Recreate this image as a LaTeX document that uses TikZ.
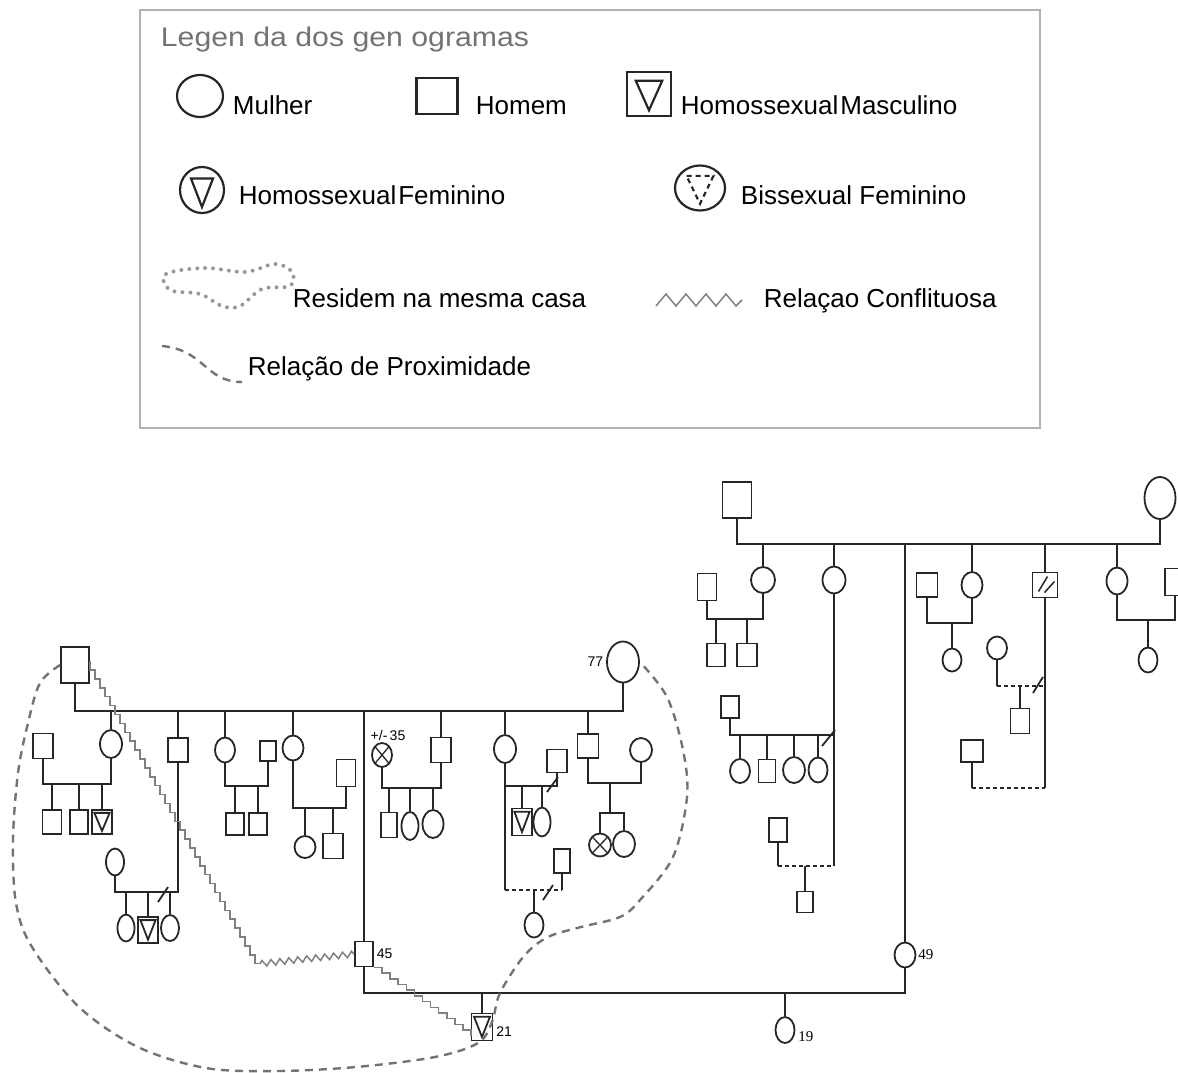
\documentclass[tikz,border=0pt]{standalone}
\usepackage{fontspec}
\setmainfont{Liberation Sans}
\newfontfamily\serifnum{Liberation Serif}
\newfontfamily\titlefont[FakeStretch=1.12]{Liberation Sans}
\usetikzlibrary{shapes.geometric,calc,positioning,decorations.pathmorphing}

\begin{document}
\begin{tikzpicture}[x=1pt,y=-1pt,line width=1.8pt,color=black!85,
  fem/.style 2 args={draw,ellipse,minimum width=#1,minimum height=#2,inner sep=0pt},
  masc/.style 2 args={draw,rectangle,minimum width=#1,minimum height=#2,inner sep=0pt},
  tri/.style={path picture={\draw ($(path picture bounding box.north west)!#1!(path picture bounding box.south east)$) -- ($(path picture bounding box.north east)!#1!(path picture bounding box.south west)$) -- ($(path picture bounding box.south)!0.13!(path picture bounding box.north)$) -- cycle;}},
  dtri/.style={path picture={\draw[dash pattern=on 5pt off 4pt] ($(path picture bounding box.north west)!#1!(path picture bounding box.south east)$) -- ($(path picture bounding box.north east)!#1!(path picture bounding box.south west)$) -- ($(path picture bounding box.south)!0.15!(path picture bounding box.north)$) -- cycle;}},
  xcross/.style={path picture={\draw[line width=1.3pt] (path picture bounding box.north west) -- (path picture bounding box.south east) (path picture bounding box.north east) -- (path picture bounding box.south west);}},
  hatch/.style={path picture={\draw[line width=1.5pt] ([xshift=-6.5pt,yshift=-6.5pt]path picture bounding box.center) -- ([xshift=2.5pt,yshift=8.5pt]path picture bounding box.center) ([xshift=-0.5pt,yshift=-7.5pt]path picture bounding box.center) -- ([xshift=9.5pt,yshift=3.5pt]path picture bounding box.center);}},
  lbl/.style={font=\fontsize{26}{30}\selectfont,text=black,inner sep=0pt,anchor=base west},
  age/.style={font=\fontsize{14}{16}\selectfont,text=black,inner sep=1pt},
  agesf/.style={font=\serifnum\fontsize{15}{17}\selectfont,text=black,inner sep=1pt},
  conflict/.style={draw=black!50,line width=1.5pt},
  prox/.style={draw=black!55,line width=2.4pt,dash pattern=on 8pt off 6pt},
  house/.style={draw=black!40,line width=4pt,line cap=round,dash pattern=on 0pt off 8pt},
  leg/.style={line width=2.2pt}]
\useasboundingbox (0,0) rectangle (1178,1072);
\clip (0,0) rectangle (1178,1072);

% legend
\draw[black!30,line width=1.2pt] (140,10) rectangle (1040,428);
\node[font=\titlefont\fontsize{27}{30}\selectfont,text=black!55,anchor=base west,inner sep=0pt] (title) at (160,46) {Legen da dos gen ogramas};
\node[fem={46}{42},leg] (kw) at (200,96) {};
\node[lbl] (kwt) at (232,114) {Mulher};
\node[masc={41}{36},leg] (km) at (437,96) {};
\node[lbl] (kmt) at (475,114) {Homem};
\node[masc={44}{44},leg,tri=0.2] (khm) at (649,94) {};
\node[lbl] (khmt) at (680,114) {Homossexual\hspace{2pt}Masculino};
\node[fem={44}{46},leg,tri=0.25] (khf) at (202,190) {};
\node[lbl] (khft) at (238,204) {Homossexual\hspace{2pt}Feminino};
\node[fem={50}{45},leg,dtri=0.23] (kbf) at (700,188) {};
\node[lbl] (kbft) at (740,204) {Bissexual Feminino};
\draw[house] plot[smooth cycle,tension=0.6] coordinates {(166,274) (205,268) (245,272) (275,264) (292,272) (290,286) (262,289) (240,306) (222,306) (200,294) (170,290)};
\node[lbl] (kht) at (292,307) {Residem na mesma casa};
\draw[conflict] (656,306) \foreach \i in {1,...,4}{ -- ++(10,-12) -- ++(10,12)} -- ++(6,-6);
\node[lbl] (kct) at (763,307) {Relaçao Conflituosa};
\draw[prox] (162,346) .. controls (205,350) and (205,382) .. (242,382);
\node[lbl] (kpt) at (247,375) {Relação de Proximidade};

% left family: grandparents
\node[masc={28}{36}] (gf) at (75,665) {};
\node[fem={32}{41}] (g77) at (623,662) {};
\node[age,left=1pt of g77] (g77a) {77};
\coordinate (lbar) at (0,711);
\draw (gf.south) -- (gf.south |- lbar) -| (g77.south);

% daughter with three sons
\node[fem={22}{28}] (a1) at (111,744) {};
\node[masc={20}{25}] (a1h) at (43,746) {};
\draw (a1.north) -- (a1.north |- lbar);
\draw (a1h.south) |- (a1.south |- 0,784) -- (a1.south);
\node[masc={19}{24}] (a1s1) at (52,822) {};
\node[masc={18}{24}] (a1s2) at (79,822) {};
\node[masc={20}{24},tri=0.12] (a1s3) at (102,822) {};
\foreach \n in {a1s1,a1s2,a1s3} \draw (\n.north) -- (\n.north |- 0,784);

% son, divorced
\node[masc={20}{24}] (b1) at (178,750) {};
\node[fem={18}{27}] (b1w) at (115,862) {};
\draw (b1.north) -- (b1.north |- lbar);
\draw (b1.south) |- (b1w.south |- 0,892) -- (b1w.south);
\draw (158,902) -- (168,887);
\node[fem={17}{27}] (b1c1) at (126,928) {};
\node[masc={20}{26},tri=0.12] (b1c2) at (148,930) {};
\node[fem={18}{26}] (b1c3) at (170,928) {};
\foreach \n in {b1c1,b1c2,b1c3} \draw (\n.north) -- (\n.north |- 0,892);

% daughter with two sons
\node[fem={20}{25}] (c1) at (225,750) {};
\node[masc={16}{20}] (c1h) at (268,751) {};
\draw (c1.north) -- (c1.north |- lbar);
\draw (c1.south) |- (c1h.south |- 0,786) -- (c1h.south);
\node[masc={18}{22}] (c1s1) at (235,824) {};
\node[masc={18}{22}] (c1s2) at (258,824) {};
\foreach \n in {c1s1,c1s2} \draw (\n.north) -- (\n.north |- 0,786);

% daughter with daughter and son
\node[fem={21}{25}] (d1) at (293,748) {};
\node[masc={19}{27}] (d1h) at (346,773) {};
\draw (d1.north) -- (d1.north |- lbar);
\draw (d1.south) |- (d1h.south |- 0,808) -- (d1h.south);
\node[fem={21}{22}] (d1d) at (305,847) {};
\node[masc={20}{25}] (d1s) at (333,846) {};
\foreach \n in {d1d,d1s} \draw (\n.north) -- (\n.north |- 0,808);

% 45
\node[masc={18}{25}] (e1) at (364,954) {};
\node[age,right=1pt of e1] (e1a) {45};
\draw (e1.north) -- (e1.north |- lbar);

% son with wife +/- 35
\node[masc={20}{25}] (f1) at (441,750) {};
\node[fem={20}{24},xcross] (f1w) at (382,755) {};
\node[age,above=0pt of f1w,xshift=6pt] (f1wa) {+/-\,35};
\draw (f1.north) -- (f1.north |- lbar);
\draw (f1w.south) |- (f1.south |- 0,788) -- (f1.south);
\node[masc={16}{25}] (f1s) at (389,825) {};
\node[fem={17}{28}] (f1d1) at (410,826) {};
\node[fem={21}{28}] (f1d2) at (433,824) {};
\foreach \n in {f1s,f1d1,f1d2} \draw (\n.north) -- (\n.north |- 0,788);

% daughter, two unions
\node[fem={22}{28}] (g1) at (505,749) {};
\node[masc={20}{23}] (g1h1) at (557,761) {};
\node[masc={16}{24}] (g1h2) at (562,861) {};
\draw (g1.north) -- (g1.north |- lbar);
\draw (g1.south) -- (g1.south |- 0,890);
\draw (g1.south |- 0,786) -| (g1h1.south);
\draw (547,792) -- (558,777);
\draw[dashed,dash pattern=on 4pt off 3pt] (g1.south |- 0,890) -- (g1h2.south |- 0,890);
\draw (g1h2.south) -- (g1h2.south |- 0,890);
\draw (543,900) -- (553,885);
\node[masc={20}{27},tri=0.12] (g1c1) at (522,822) {};
\node[fem={17}{29}] (g1c2) at (542,822) {};
\foreach \n in {g1c1,g1c2} \draw (\n.north) -- (\n.north |- 0,786);
\node[fem={19}{25}] (g1c3) at (534,925) {};
\draw (g1c3.north) -- (g1c3.north |- 0,890);

% son with twins
\node[masc={21}{24}] (h1) at (588,746) {};
\node[fem={22}{24}] (h1w) at (641,750) {};
\draw (h1.north) -- (h1.north |- lbar);
\draw (h1.south) |- (h1w.south |- 0,783) -- (h1w.south);
\node[fem={22}{23},xcross] (h1c1) at (600,845) {};
\node[fem={22}{26}] (h1c2) at (624,844) {};
\coordinate (h1tw) at (610,813);
\draw (h1c1.north) |- (h1tw) -| (h1c2.north);
\draw (h1tw) -- (h1tw |- 0,783);

% right family: grandparents
\node[masc={29}{36}] (rgf) at (737,500) {};
\node[fem={31}{42}] (rgm) at (1160,498) {};
\coordinate (rbar) at (0,544);
\draw (rgf.south) -- (rgf.south |- rbar) -| (rgm.south);

% daughter with two sons
\node[fem={24}{26}] (r1) at (763,580) {};
\node[masc={19}{27}] (r1h) at (707,587) {};
\draw (r1.north) -- (r1.north |- rbar);
\draw (r1h.south) |- (r1.south |- 0,619) -- (r1.south);
\node[masc={18}{23}] (r1s1) at (716,655) {};
\node[masc={20}{23}] (r1s2) at (747,655) {};
\foreach \n in {r1s1,r1s2} \draw (\n.north) -- (\n.north |- 0,619);

% daughter, two unions
\node[fem={23}{27}] (r2) at (834,580) {};
\node[masc={18}{22}] (r2h1) at (730,707) {};
\node[masc={18}{24}] (r2h2) at (778,830) {};
\draw (r2.north) -- (r2.north |- rbar);
\draw (r2.south) -- (r2.south |- 0,866);
\draw (r2h1.south) |- (r2.south |- 0,735);
\draw (822,746) -- (835,730);
\node[fem={20}{24}] (r2c1) at (740,771) {};
\node[masc={17}{23}] (r2c2) at (767,771) {};
\node[fem={22}{26}] (r2c3) at (794,770) {};
\node[fem={19}{25}] (r2c4) at (818,770) {};
\foreach \n in {r2c1,r2c2,r2c3,r2c4} \draw (\n.north) -- (\n.north |- 0,735);
\draw (r2h2.south) -- (r2h2.south |- 0,866);
\draw[dashed,dash pattern=on 4pt off 3pt] (r2h2.south |- 0,866) -- (r2.south |- 0,866);
\node[masc={16}{21}] (r2c5) at (805,902) {};
\draw (r2c5.north) -- (r2c5.north |- 0,866);

% daughter 49 and the couple below
\node[fem={21}{25}] (w49) at (905,955) {};
\node[agesf,right=0pt of w49] (w49a) {49};
\draw (w49.north) -- (w49.north |- rbar);
\coordinate (bbar) at (0,993);
\draw (e1.south) |- (w49.south |- bbar) -- (w49.south);
\node[masc={21}{27},tri=0.12] (s21) at (482,1027) {};
\node[age,right=1pt of s21,yshift=-5pt] (s21a) {21};
\draw (s21.north) -- (s21.north |- bbar);
\node[fem={19}{26}] (d19) at (785,1030) {};
\node[agesf,right=1pt of d19,yshift=-7pt] (d19a) {19};
\draw (d19.north) -- (d19.north |- bbar);

% daughter with daughter
\node[fem={21}{26}] (r4) at (972,585) {};
\node[masc={21}{24}] (r4h) at (927,585) {};
\draw (r4.north) -- (r4.north |- rbar);
\draw (r4h.south) |- (r4.south |- 0,623) -- (r4.south);
\node[fem={19}{23}] (r4c) at (952,660) {};
\draw (r4c.north) -- (r4c.north |- 0,623);

% son, two unions
\node[masc={25}{25},hatch] (r5) at (1045,585) {};
\node[fem={20}{23}] (r5w) at (997,648) {};
\node[masc={22}{22}] (r5p) at (972,751) {};
\draw (r5.north) -- (r5.north |- rbar);
\draw (r5.south) -- (r5.south |- 0,788);
\draw (r5w.south) -- (r5w.south |- 0,686);
\draw[dashed,dash pattern=on 4pt off 3pt] (r5w.south |- 0,686) -- (r5.south |- 0,686);
\draw (1033,693) -- (1043,677);
\node[masc={19}{25}] (r5c) at (1020,721) {};
\draw (r5c.north) -- (r5c.north |- 0,686);
\draw (r5p.south) -- (r5p.south |- 0,788);
\draw[dashed,dash pattern=on 4pt off 3pt] (r5p.south |- 0,788) -- (r5.south |- 0,788);

% daughter with daughter
\node[fem={21}{27}] (r6) at (1117,581) {};
\node[masc={20}{27}] (r6h) at (1175,582) {};
\draw (r6.north) -- (r6.north |- rbar);
\draw (r6.south) |- (r6h.south |- 0,620) -- (r6h.south);
\node[fem={19}{25}] (r6c) at (1148,660) {};
\draw (r6c.north) -- (r6c.north |- 0,620);

% conflict
\draw[conflict] ([yshift=-15pt]gf.north east) \foreach \i in {1,...,34}{ -- ++(0,8.9) -- ++(5,0)} coordinate (zbend);
\draw[conflict,decorate,decoration={zigzag,segment length=9pt,amplitude=3pt}] (zbend) -- (e1.west);
\draw[conflict] (e1.south east) \foreach \i in {1,...,12}{ -- ++(8.1,0) -- ++(0,5.7)};

% proximity
\draw[prox] plot[smooth,tension=0.55] coordinates {(gf.west) (40,683) (28,723) (18,773) (13,840) (16,903) (32,947) (79,1007) (138,1047) (206,1068) (277,1071) (356,1067) (435,1057) (478,1043) (492,1022) (500,993) (524,956) (548,937) (581,927) (620,917) (640,900) (673,857) (687,797) (683,750) (667,697) (g77.east)};
\end{tikzpicture}
\end{document}
